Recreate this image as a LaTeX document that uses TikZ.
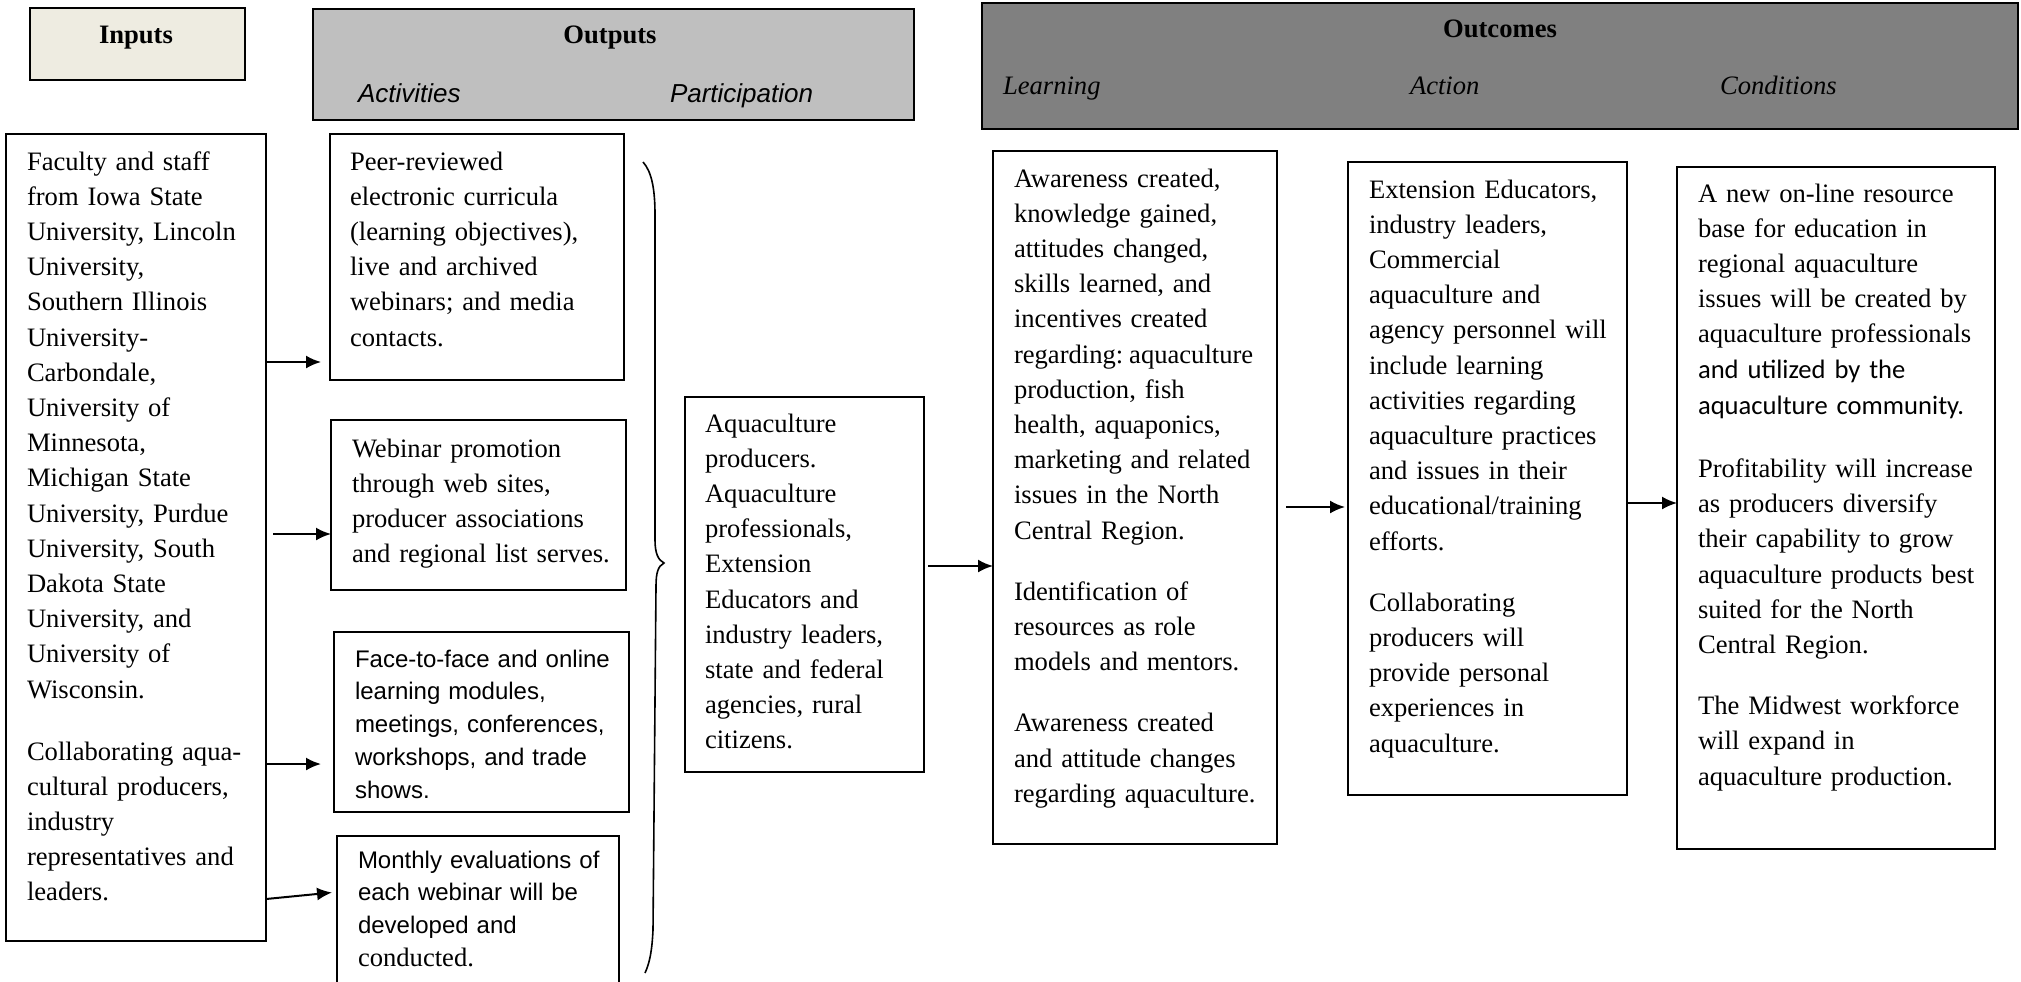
\documentclass[tikz,border=0pt]{standalone}
\usepackage{fontspec}
\setmainfont{Liberation Serif}
\newfontfamily\arialf{Liberation Sans}
\newfontfamily\calibrif{Carlito}
\usetikzlibrary{arrows.meta}
\definecolor{creamc}{HTML}{EEECE1}
\definecolor{lgrayc}{HTML}{BFBFBF}
\definecolor{dgrayc}{HTML}{808080}
\newcommand{\serifsz}{\frenchspacing\fontsize{13.3pt}{17.6pt}\selectfont}
\newcommand{\sanssz}{\frenchspacing\arialf\fontsize{12pt}{16.4pt}\selectfont}
\begin{document}
\frenchspacing
\begin{tikzpicture}[x=0.5pt,y=-0.5pt,
  box/.style={draw, line width=1.1pt, inner sep=0pt, outer sep=0pt, fill=white},
  hbox/.style={draw, line width=1.3pt, inner sep=0pt, outer sep=0pt},
  txt/.style={anchor=base west, inner sep=0pt, outer sep=0pt, align=left, text width=160pt, font=\serifsz},
  stxt/.style={anchor=base west, inner sep=0pt, outer sep=0pt, align=left, text width=160pt, font=\sanssz},
  htxt/.style={anchor=base, inner sep=0pt, outer sep=0pt, font=\serifsz\bfseries},
  itxt/.style={anchor=base west, inner sep=0pt, outer sep=0pt, font=\serifsz\itshape},
  sitxt/.style={anchor=base west, inner sep=0pt, outer sep=0pt, font=\arialf\fontsize{13pt}{16pt}\selectfont\itshape},
  arr/.style={-{Latex[length=7.5pt,width=6.5pt]}, line width=1pt},
  bracel/.style={line width=0.8pt}
]
\path[use as bounding box] (0,0) rectangle (2021,981);
\clip (0,0) rectangle (2021,981);

% header boxes
\node[hbox, fill=creamc, minimum width=107.5pt, minimum height=36pt] (inh) at (137.5,44) {};
\node[hbox, fill=lgrayc, minimum width=300.5pt, minimum height=55.5pt] (outh) at (613.5,64.5) {};
\node[hbox, fill=dgrayc, minimum width=518pt, minimum height=63pt] (outch) at (1500,66) {};

\node[htxt] (inht) at (136,43) {Inputs};
\node[htxt] (outht) at (610,43) {Outputs};
\node[sitxt] (actt) at (358,102) {Activities};
\node[sitxt] (partt) at (670,102) {Participation};
\node[htxt] (outcht) at (1500,37) {Outcomes};
\node[itxt] (learnt) at (1003,94) {Learning};
\node[itxt] (actiont) at (1410,94) {Action};
\node[itxt] (condt) at (1720,94) {Conditions};

% content boxes
\node[box, minimum width=130pt, minimum height=403.5pt] (inp) at (136,537.5) {};
\node[box, minimum width=147pt, minimum height=123pt] (a1) at (477,257) {};
\node[box, minimum width=147.5pt, minimum height=85pt] (a2) at (478.5,505) {};
\node[box, minimum width=147.5pt, minimum height=90pt] (a3) at (481.5,722) {};
\node[box, minimum width=141pt, minimum height=87pt] (a4) at (478,923) {};
\node[box, minimum width=119.5pt, minimum height=187.5pt] (part) at (804.5,584.5) {};
\node[box, minimum width=142pt, minimum height=346.5pt] (learn) at (1135,497.5) {};
\node[box, minimum width=139.5pt, minimum height=316.5pt] (act) at (1487.5,478.5) {};
\node[box, minimum width=159pt, minimum height=341pt] (cond) at (1836,508) {};

% texts
\node[txt] (tinp) at (27,170) {Faculty and staff\\
from Iowa State\\
University, Lincoln\\
University,\\
Southern Illinois\\
University-\\
Carbondale,\\
University of\\
Minnesota,\\
Michigan State\\
University, Purdue\\
University, South\\
Dakota State\\
University, and\\
University of\\
Wisconsin.\\[13.4pt]
Collaborating aqua-\\
cultural producers,\\
industry\\
representatives and\\
leaders.};

\node[txt] (ta1) at (350,170) {Peer-reviewed\\
electronic curricula\\
(learning objectives),\\
live and archived\\
webinars; and media\\
contacts.};

\node[txt] (ta2) at (352,457) {Webinar promotion\\
through web sites,\\
producer associations\\
and regional list serves.};

\node[stxt] (ta3) at (355,667) {Face-to-face and online\\
learning modules,\\
meetings, conferences,\\
workshops, and trade\\
shows.};

\node[stxt] (ta4) at (358,868) {Monthly evaluations of\\
each webinar will be\\
developed and\\
{\rmfamily\fontsize{13.3pt}{16.4pt}\selectfont conducted.}};

\node[txt] (tpart) at (705,432) {Aquaculture\\
producers.\\
Aquaculture\\
professionals,\\
Extension\\
Educators and\\
industry leaders,\\
state and federal\\
agencies, rural\\
citizens.};

\node[txt] (tlearn) at (1014,187) {Awareness created,\\
knowledge gained,\\
attitudes changed,\\
skills learned, and\\
incentives created\\
regarding:\hspace{0.22em}aquaculture\\
production, fish\\
health, aquaponics,\\
marketing and related\\
issues in the North\\
Central Region.\\[13pt]
Identification of\\
resources as role\\
models and mentors.\\[13pt]
Awareness created\\
and attitude changes\\
regarding aquaculture.};

\node[txt] (tact) at (1369,198) {Extension Educators,\\
industry leaders,\\
Commercial\\
aquaculture and\\
agency personnel will\\
include learning\\
activities regarding\\
aquaculture practices\\
and issues in their\\
educational/training\\
efforts.\\[13pt]
Collaborating\\
producers will\\
provide personal\\
experiences in\\
aquaculture.};

\node[txt] (tcond) at (1698,202) {A new on-line resource\\
base for education in\\
regional aquaculture\\
issues will be created by\\
aquaculture professionals\\
{\calibrif and utilized by the}\\[0.5pt]
{\calibrif aquaculture community.}\\[14pt]
Profitability will increase\\
as producers diversify\\
their capability to grow\\
aquaculture products best\\
suited for the North\\
Central Region.\\[13pt]
The Midwest workforce\\
will expand in\\
aquaculture production.};

% arrow anchor coordinates
\coordinate (a1in) at ([yshift=-52.5pt]a1.west);
\coordinate (a2in) at ([yshift=-14.5pt]a2.west);
\coordinate (a3in) at ([yshift=-21pt]a3.west);
\coordinate (a4in) at ([yshift=15.5pt]a4.west);
\coordinate (a4out) at ([yshift=-180.75pt]inp.east);
\coordinate (learnin) at ([yshift=-34.25pt]learn.west);
\coordinate (actin) at ([yshift=-14.25pt]act.west);
\coordinate (condin) at ([yshift=2.5pt]cond.west);

\draw[arr, shorten >=4.5pt] (inp.east |- a1in) -- (a1in);
\draw[arr, shorten <=3.5pt] (inp.east |- a2in) -- (a2in);
\draw[arr, shorten >=6.5pt] (inp.east |- a3in) -- (a3in);
\draw[arr, shorten >=2.5pt] (a4out) -- (a4in);
\draw[arr, shorten <=2pt] (part.east |- learnin) -- (learnin);
\draw[arr, shorten <=4.5pt, shorten >=1.5pt] (learn.east |- actin) -- (actin);
\draw[arr] (act.east |- condin) -- (condin);

% brace
\draw[bracel] (643,162) .. controls (652,172) and (655,190) .. (655,215)
  -- (655,540) .. controls (655,553) and (658,560) .. (664,563)
  .. controls (658,566) and (656,573) .. (656,586)
  -- (653,930) .. controls (652,950) and (650,962) .. (645,973);
\end{tikzpicture}
\end{document}
